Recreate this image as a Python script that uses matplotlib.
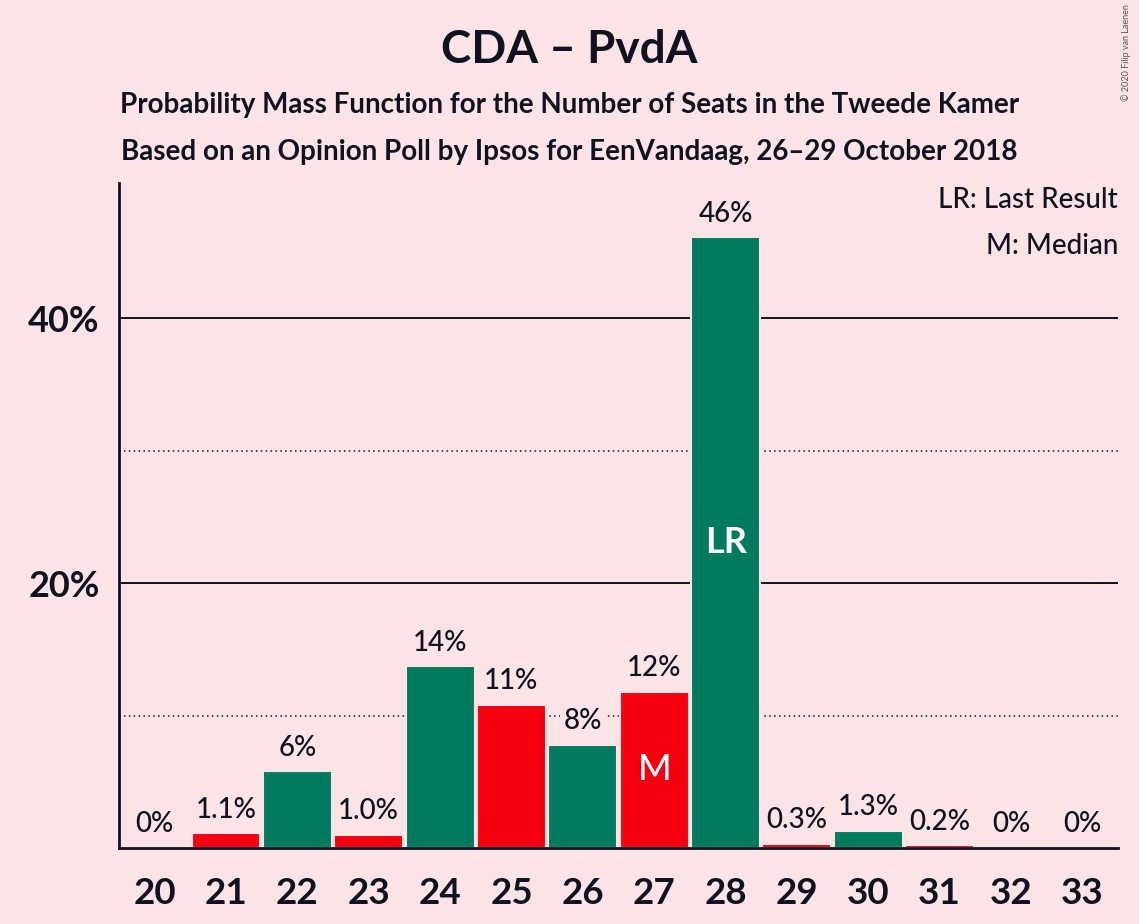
import matplotlib.pyplot as plt

seats = [20, 21, 22, 23, 24, 25, 26, 27, 28, 29, 30, 31, 32, 33]
probs = [0.0, 1.1, 5.8, 1.0, 13.7, 10.8, 7.8, 11.8, 46.1, 0.3, 1.3, 0.2, 0.0, 0.0]
labels = ["0%", "1.1%", "6%", "1.0%", "14%", "11%", "8%", "12%", "46%",
          "0.3%", "1.3%", "0.2%", "0%", "0%"]
parties = ["PvdA", "PvdA", "CDA", "PvdA", "CDA", "PvdA", "CDA", "PvdA", "CDA",
           "PvdA", "CDA", "PvdA", "CDA", "PvdA"]
last_result = 28
median = 27

bg = "#FCE4E6"
ink = "#0E1221"
party_colors = {"CDA": "#007B5F", "PvdA": "#F5000F"}

plt.rcParams['font.family'] = ['Lato', 'DejaVu Sans']

fig = plt.figure(figsize=(11.39, 9.24), dpi=100, facecolor=bg)
ax = fig.add_axes([0.1045, 0.0823, 0.8771, 0.7196], facecolor=bg)

# grid lines
for v in [10, 30]:
    ax.axhline(v, color=ink, linewidth=1.1, linestyle=(0, (1, 2.2)), zorder=1)
for v in [20, 40]:
    ax.axhline(v, color=ink, linewidth=1.4, zorder=1)

colors = [party_colors[p] for p in parties]
ax.bar(seats, probs, width=0.965, color=colors, edgecolor=bg, linewidth=1.5, zorder=2)

for s, p, lab in zip(seats, probs, labels):
    ax.annotate(lab, (s, p), xytext=(0, 17), textcoords='offset points',
                ha='center', va='center', fontsize=20, fontweight='medium',
                color=ink, zorder=3,
                bbox=dict(boxstyle='square,pad=0.15', facecolor=bg, edgecolor='none'))

lr_val = probs[seats.index(last_result)]
ax.text(last_result, lr_val / 2, "LR", ha='center', va='center', color='white',
        fontsize=26, fontweight='bold', zorder=3)
m_val = probs[seats.index(median)]
ax.text(median, m_val / 2, "M", ha='center', va='center', color='white',
        fontsize=26, fontweight='medium', zorder=3)

ax.set_xlim(19.5, 33.5)
ax.set_ylim(0, 50.2)
ax.set_xticks(seats)
ax.set_xticklabels([str(s) for s in seats], fontsize=26.5, fontweight='bold', color=ink)
ax.set_yticks([20, 40])
ax.set_yticklabels(["20%", "40%"], fontsize=26, fontweight='bold', color=ink)
ax.tick_params(axis='x', length=0, pad=21)
ax.tick_params(axis='y', length=0, pad=14)

for side in ['top', 'right']:
    ax.spines[side].set_visible(False)
for side in ['left', 'bottom']:
    ax.spines[side].set_color(ink)
    ax.spines[side].set_linewidth(2)
ax.spines['left'].set_zorder(4)
ax.spines['bottom'].set_zorder(4)

ax.text(1.0, 0.975, "LR: Last Result", transform=ax.transAxes, ha='right', va='center',
        fontsize=20, fontweight='medium', color=ink)
ax.text(1.0, 0.905, "M: Median", transform=ax.transAxes, ha='right', va='center',
        fontsize=20, fontweight='medium', color=ink)

fig.text(0.5, 0.946, "CDA – PvdA", ha='center', va='center', fontsize=33,
         fontweight='bold', color=ink)
fig.text(0.5, 0.886, "Probability Mass Function for the Number of Seats in the Tweede Kamer",
         ha='center', va='center', fontsize=20, fontweight='bold', color=ink)
fig.text(0.5, 0.835, "Based on an Opinion Poll by Ipsos for EenVandaag, 26–29 October 2018",
         ha='center', va='center', fontsize=20, fontweight='bold', color=ink)
fig.text(0.993, 0.995, "© 2020 Filip van Laenen", ha='right', va='top', rotation=90,
         fontsize=6.5, color='#555555')

fig.savefig("out.png", dpi=100, facecolor=bg)
